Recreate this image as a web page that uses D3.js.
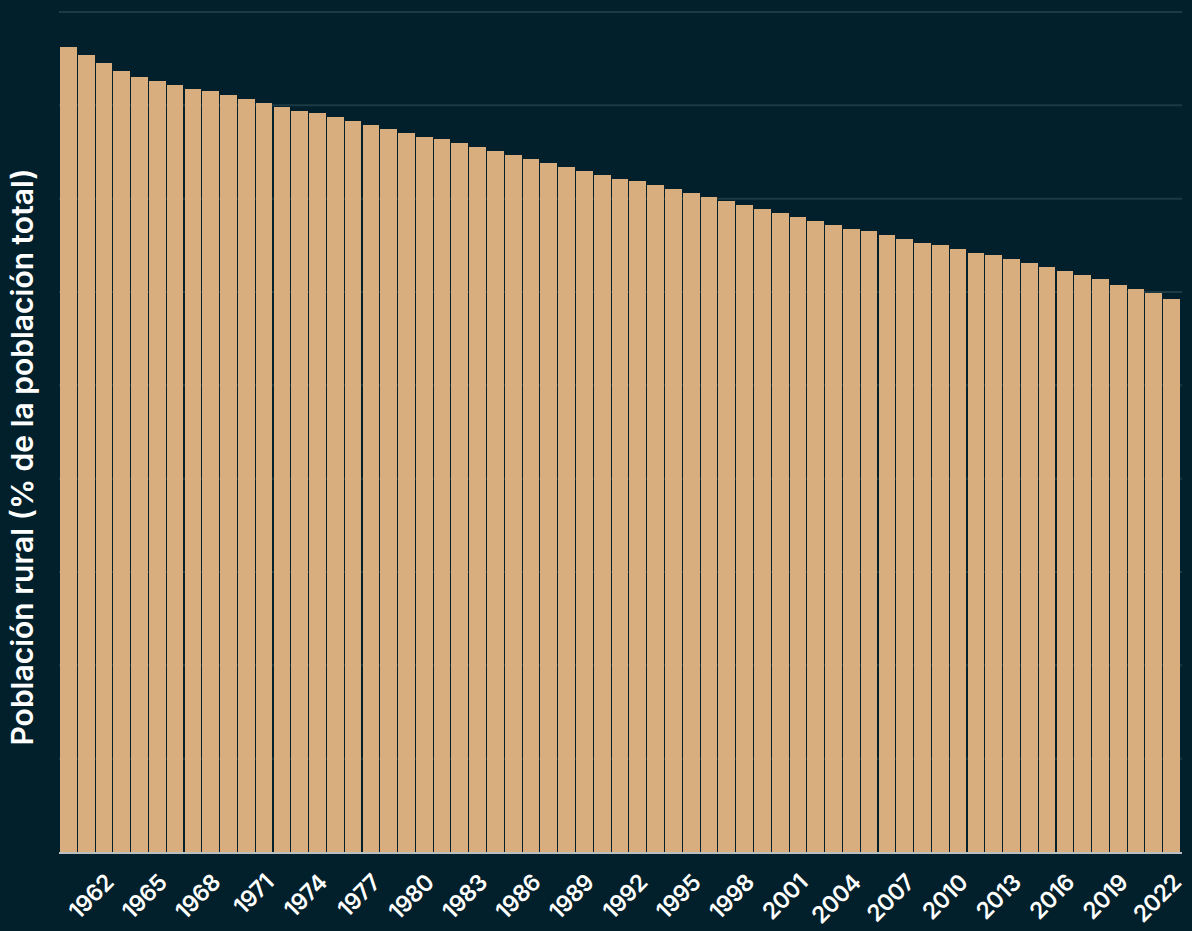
<!DOCTYPE html>
<html>
<head>
<meta charset="utf-8">
<script src="https://cdn.jsdelivr.net/npm/d3@7"></script>
<style>
  body { margin: 0; background: #02202b; }
  svg { display: block; }
</style>
</head>
<body>
<svg class="chart-svg" width="1192" height="931"></svg>
<script>
// años 1960 - 2022
var years = d3.range(1960, 2023)
// población rural (% del total)
var ruralPct = [
  86.25, 85.39, 84.54, 83.68, 83.04, 82.61, 82.18, 81.75, 81.54, 81.11,
  80.68, 80.25, 79.82, 79.39, 79.18, 78.75, 78.32, 77.89, 77.46, 77.04,
  76.61, 76.39, 75.96, 75.54, 75.11, 74.68, 74.25, 73.82, 73.39, 72.96,
  72.54, 72.11, 71.89, 71.46, 71.04, 70.61, 70.18, 69.75, 69.32, 68.89,
  68.47, 68.04, 67.61, 67.18, 66.75, 66.54, 66.11, 65.68, 65.25, 65.04,
  64.61, 64.18, 63.96, 63.54, 63.11, 62.68, 62.25, 61.82, 61.39, 60.75,
  60.32, 59.89, 59.25
]
var gridValues = [10, 20, 30, 40, 50, 60, 70, 80, 90]
var tickYears = d3.range(1962, 2023, 3)
var yTitle = "Población rural (% de la población total)"

var margin = {top: 12, right: 12, bottom: 79, left: 60}
var width = 1192, height = 931

var data = years.map((y, i) => ({year: y, value: ruralPct[i]}))

var svg = d3.select(".chart-svg")

var xScale = d3.scaleBand()
  .domain(years)
  .range([margin.left, width - margin.right])
  .paddingInner(0.06)

var yScale = d3.scaleLinear()
  .domain([0, 90])
  .range([height - margin.bottom, margin.top])

// grid
svg.append("g")
  .attr("class", "grid")
  .selectAll("line")
  .data(gridValues)
  .enter().append("line")
  .attr("x1", margin.left - 1)
  .attr("x2", width - margin.right + 2)
  .attr("y1", d => yScale(d))
  .attr("y2", d => yScale(d))
  .attr("stroke", "#1b3a44")
  .attr("stroke-width", 2)

// bars
svg.append("g")
  .attr("class", "bars")
  .selectAll("rect")
  .data(data)
  .enter().append("rect")
  .attr("x", d => xScale(d.year))
  .attr("y", d => yScale(d.value))
  .attr("width", xScale.bandwidth())
  .attr("height", d => yScale(0) - yScale(d.value))
  .attr("fill", "#d9ae7e")
  .attr("shape-rendering", "crispEdges")

// baseline
svg.append("line")
  .attr("x1", margin.left - 1)
  .attr("x2", width - margin.right + 2)
  .attr("y1", yScale(0) + 1)
  .attr("y2", yScale(0) + 1)
  .attr("stroke", "#b9c0c2")
  .attr("stroke-width", 2)

// x labels
svg.append("g")
  .attr("class", "x-labels")
  .selectAll("text")
  .data(tickYears)
  .enter().append("text")
  .text(d => d)
  .attr("transform", d => "translate(" + (xScale(d) + xScale.bandwidth() / 2 + 11) + "," + (height - margin.bottom + 32) + ") rotate(-45)")
  .attr("text-anchor", "end")
  .attr("font-family", "Inter, 'Open Sans', sans-serif")
  .attr("font-weight", 600)
  .attr("font-size", "23px")
  .attr("letter-spacing", "-0.5px")
  .attr("fill", "#ffffff")

// y title
svg.append("text")
  .text(yTitle)
  .attr("transform", "translate(33,457) rotate(-90)")
  .attr("text-anchor", "middle")
  .attr("font-family", "Inter, 'Open Sans', sans-serif")
  .attr("font-weight", 600)
  .attr("font-size", "30px")
  .attr("fill", "#ffffff")
</script>
</body>
</html>
